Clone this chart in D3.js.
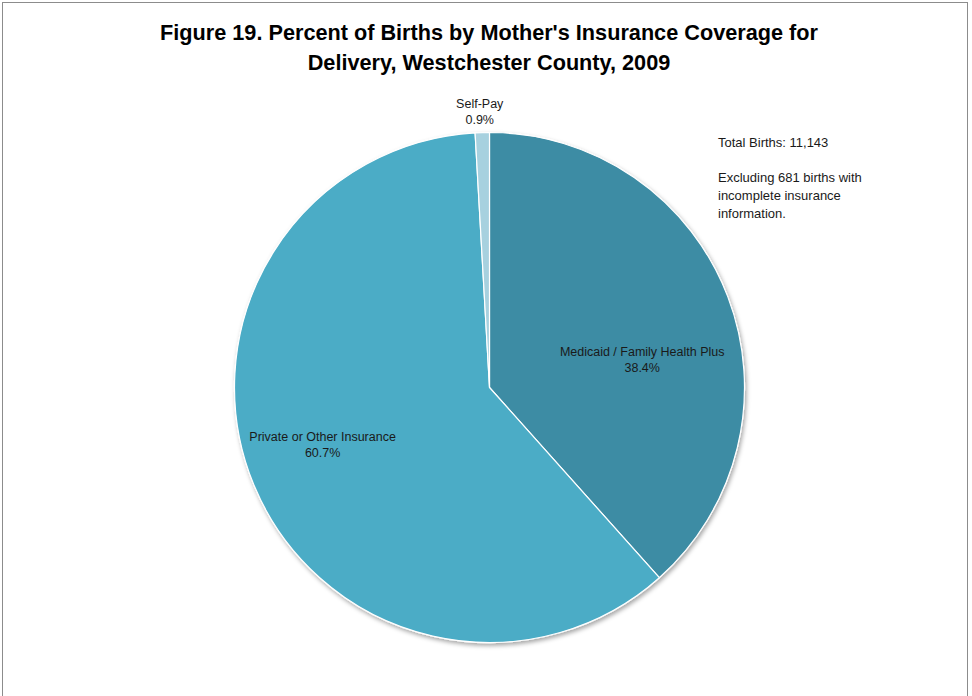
<!DOCTYPE html>
<html>
<head>
<meta charset="utf-8">
<script src="https://cdn.jsdelivr.net/npm/d3@7/dist/d3.min.js"></script>
<style>
  html, body { margin: 0; padding: 0; background: #fff; }
  svg { display: block; }
</style>
</head>
<body>
<svg id="chart" width="972" height="696"></svg>
<script>
// ---- data ----
const categories = ["Medicaid / Family Health Plus", "Private or Other Insurance", "Self-Pay"];
const percents = [38.4, 60.7, 0.9];
const percentLabels = ["38.4%", "60.7%", "0.9%"];
const titleLines = ["Figure 19. Percent of Births by Mother's Insurance Coverage for",
                    "Delivery, Westchester County, 2009"];
const noteLines = ["Total Births: 11,143", "", "Excluding 681 births with", "incomplete insurance", "information."];

// ---- styles / layout ----
const colors = ["#3c8ca4", "#4bacc6", "#a7d1df"];
const W = 972, H = 696;
const cx = 489.5, cy = 387.5, R = 255;
const font = "'Liberation Sans', Arial, sans-serif";
// label anchor: radius fraction and nudge per slice
const labelLayout = [
  { r: 0.62, dx: 5, dy: 29 },
  { r: 0.70, dx: -2, dy: -11 },
  { r: 1.08, dx: -2, dy: 0 }
];

const svg = d3.select("#chart");

// frame
svg.append("rect")
  .attr("x", 2.5).attr("y", 2.5)
  .attr("width", 965).attr("height", H + 10)
  .attr("fill", "#fff").attr("stroke", "#8c8c8c").attr("stroke-width", 1);

// shadow filter
const defs = svg.append("defs");
const f = defs.append("filter").attr("id", "shadow")
  .attr("x", "-10%").attr("y", "-10%").attr("width", "120%").attr("height", "120%");
f.append("feDropShadow").attr("dx", 1.5).attr("dy", 2.5).attr("stdDeviation", 2)
  .attr("flood-color", "#000").attr("flood-opacity", 0.35);

// title
const title = svg.append("text")
  .attr("text-anchor", "middle")
  .attr("font-family", font).attr("font-weight", "bold")
  .attr("fill", "#000");
titleLines.forEach((t, i) => {
  title.append("tspan").attr("x", 489).attr("y", 40 + i * 30).text(t);
});
// fit title width to the reference (~658px for the widest line)
let fs = 20;
title.attr("font-size", fs);
const w0 = title.select("tspan").node().getComputedTextLength();
fs = fs * 658 / w0;
title.attr("font-size", fs.toFixed(2));

// pie
const pie = d3.pie().sort(null).value(d => d)(percents);
const arc = d3.arc().innerRadius(0).outerRadius(R);

const g = svg.append("g").attr("transform", `translate(${cx},${cy})`);
g.append("g").attr("filter", "url(#shadow)")
  .selectAll("path")
  .data(pie)
  .join("path")
  .attr("d", arc)
  .attr("fill", (d, i) => colors[i])
  .attr("stroke", "#fff")
  .attr("stroke-width", 1.2)
  .attr("stroke-linejoin", "round");

// labels
const lbl = g.append("g")
  .attr("font-family", font).attr("font-size", 12.5)
  .attr("fill", "#1a1a1a").attr("text-anchor", "middle");
pie.forEach((d, i) => {
  const L = labelLayout[i];
  const la = d3.arc().innerRadius(R * L.r).outerRadius(R * L.r);
  const [x, y] = la.centroid(d);
  const t = lbl.append("text");
  t.append("tspan").attr("x", x + L.dx).attr("y", y + L.dy - 4).text(categories[i]);
  t.append("tspan").attr("x", x + L.dx).attr("y", y + L.dy + 12).text(percentLabels[i]);
});

// note
const note = svg.append("text")
  .attr("font-family", font).attr("font-size", 13).attr("fill", "#1a1a1a");
noteLines.forEach((t, i) => {
  note.append("tspan").attr("x", 718).attr("y", 147 + i * 18 - (i >= 2 ? 1 : 0)).text(t);
});
</script>
</body>
</html>
